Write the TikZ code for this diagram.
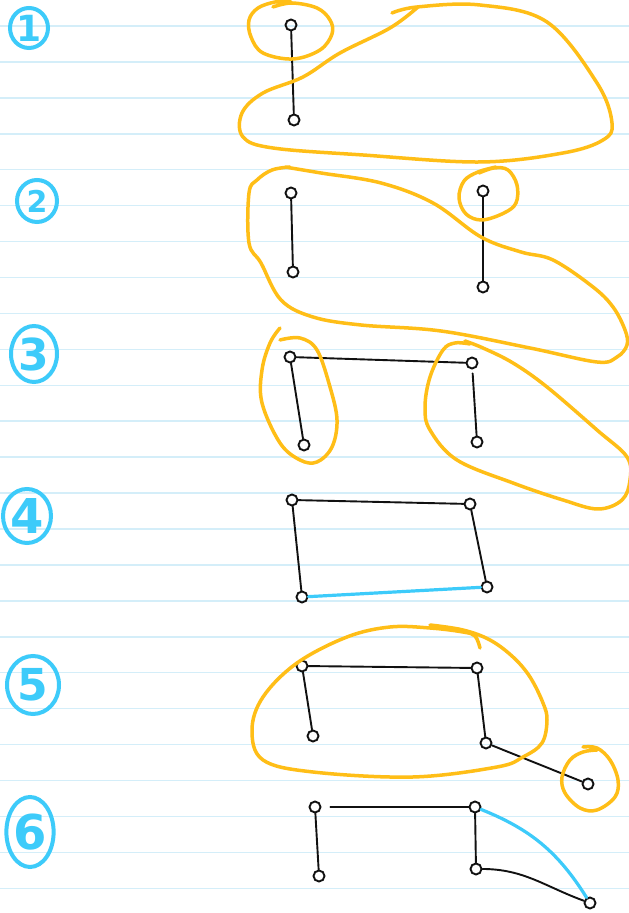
\documentclass[tikz,border=0pt]{standalone}
\usepackage{fontspec}
\usepackage{tikz}
\usetikzlibrary{shapes.geometric}
\newfontfamily\numfont{DejaVu Sans}
\definecolor{cOrange}{HTML}{FFBE17}
\definecolor{cCyan}{HTML}{3DCBFA}
\definecolor{cRule}{HTML}{D4EEF9}
\definecolor{cInk}{HTML}{111111}
\tikzset{
  vert/.style   ={circle,draw=cInk,line width=1.9pt,minimum size=11pt,inner sep=0pt},
  edge/.style   ={draw=cInk,line width=1.9pt,line cap=round},
  cedge/.style  ={draw=cCyan,line width=3.2pt,line cap=round},
  hull/.style   ={draw=cOrange,line width=3.5pt,line cap=round,line join=round},
  numcirc/.style={ellipse,draw=cCyan,line width=4pt,text=cCyan,inner sep=0pt,
                  font=\numfont\bfseries\fontsize{#1}{#1}\selectfont},
  rule/.style   ={draw=cRule,line width=1.5pt},
}

\begin{document}
\begin{tikzpicture}[x=1pt,y=1pt]
\useasboundingbox (0,0) rectangle (629,913);
\fill[white] (0,0) rectangle (629,913);
% ruled paper
\foreach \k in {0,...,24}
  \draw[rule] (0,{887-35.93*\k}) -- (629,{887-35.93*\k});

% step numbers
\node[numcirc=36,minimum width=38,minimum height=40] (n1) at (29,885) {1};
\node[numcirc=30,minimum width=40,minimum height=42] (n2) at (37,712) {2};
\node[numcirc=44,minimum width=46,minimum height=56] (n3) at (34,559) {3};
\node[numcirc=48,minimum width=48,minimum height=54] (n4) at (27,397) {4};
\node[numcirc=44,minimum width=52,minimum height=58] (n5) at (33,228) {5};
\node[numcirc=48,minimum width=46,minimum height=70] (n6) at (30,81)  {6};

% step 1
\node[vert] (a1) at (291,888) {};
\node[vert] (b1) at (294,793) {};
\draw[edge] (a1) -- (b1);
\draw[hull] plot[smooth,tension=0.6] coordinates {(273,906) (292,910) (317,905)
  (330,893) (332,879) (320,863) (293,854) (263,860) (251,876) (249,893)
  (258,905) (275,911) (290,912)};
\draw[hull] plot[smooth,tension=0.6] coordinates {(392,900) (417,906) (480,908)
  (547,891) (597,830) (612,790) (603,773) (563,760) (480,751) (363,758)
  (273,765) (243,776) (242,800) (263,820) (303,836) (340,860) (390,885) (418,906)};

% step 2
\node[vert] (a2) at (291,720) {};
\node[vert] (b2) at (293,641) {};
\node[vert] (c2) at (483,722) {};
\node[vert] (d2) at (483,626) {};
\draw[edge] (a2) -- (b2);
\draw[edge] (c2) -- (d2);
\draw[hull] plot[smooth,tension=0.6] coordinates {(479,740) (494,745) (508,743)
  (517,728) (516,710) (504,700) (482,693) (466,699) (459,715) (464,732)
  (478,741) (496,746)};
\draw[hull] plot[smooth,tension=0.6] coordinates {(285,746) (321,740) (381,730)
  (433,710) (481,676) (521,661) (553,653) (593,626) (613,606) (625,583)
  (627,568) (617,556) (597,551) (530,565) (441,582) (361,588) (313,596)
  (281,613) (261,650) (249,670) (249,720) (257,733) (272,743) (290,746)};

% step 3
\node[vert] (a3) at (290,556) {};
\node[vert] (b3) at (304,468) {};
\node[vert] (c3) at (472,550) {};
\node[vert] (d3) at (477,471) {};
\draw[edge] (a3) -- (c3);
\draw[edge] (a3) -- (b3);
\draw[edge,shorten <=4pt] (c3) -- (d3);
\draw[hull] plot[smooth,tension=0.6] coordinates {(280,585) (270,570) (262,543)
  (262,510) (280,470) (300,453) (317,451) (332,466) (337,493) (330,526)
  (317,563) (300,575) (280,573)};
\draw[hull] plot[smooth,tension=0.6] coordinates {(470,569) (455,570) (443,563)
  (430,536) (425,506) (430,483) (457,453) (513,430) (563,413) (598,404)
  (622,413) (630,433) (627,456) (597,483) (547,526) (513,550) (483,565) (465,572)};

% step 4
\node[vert] (a4) at (292,413) {};
\node[vert] (b4) at (302,316) {};
\node[vert] (c4) at (470,409) {};
\node[vert] (d4) at (487,326) {};
\draw[edge] (a4) -- (c4);
\draw[edge] (a4) -- (b4);
\draw[edge] (c4) -- (d4);
\draw[cedge] (b4) -- (d4);

% step 5
\node[vert] (a5) at (302,247) {};
\node[vert] (b5) at (313,177) {};
\node[vert] (c5) at (477,245) {};
\node[vert] (d5) at (486,170) {};
\node[vert] (e5) at (588,129) {};
\draw[edge] (a5) -- (c5);
\draw[edge] (a5) -- (b5);
\draw[edge] (c5) -- (d5);
\draw[edge] (d5) -- (e5);
\draw[hull] plot[smooth,tension=0.6] coordinates {(480,265) (475,277) (463,281)
  (430,285) (390,286) (347,276) (297,250) (263,216) (252,183) (263,153)
  (313,141) (413,136) (497,146) (523,156) (542,170) (547,193) (543,210)
  (530,236) (513,256) (490,273) (463,283) (430,288)};
\draw[hull] plot[smooth,tension=0.6] coordinates {(583,166) (597,165) (610,153)
  (618,133) (615,116) (597,103) (580,105) (565,120) (562,136) (570,153)
  (583,161) (597,163)};

% step 6
\node[vert] (a6) at (315,106) {};
\node[vert] (b6) at (319,37)  {};
\node[vert] (c6) at (475,106) {};
\node[vert] (d6) at (476,44)  {};
\node[vert] (e6) at (590,10)  {};
\draw[edge,shorten <=9pt] (a6) -- (c6);
\draw[edge] (a6) -- (b6);
\draw[edge] (c6) -- (d6);
\draw[edge] (d6) to[out=0,in=160] (e6);
\draw[cedge] (c6) to[bend left=18] (e6);
\end{tikzpicture}
\end{document}
